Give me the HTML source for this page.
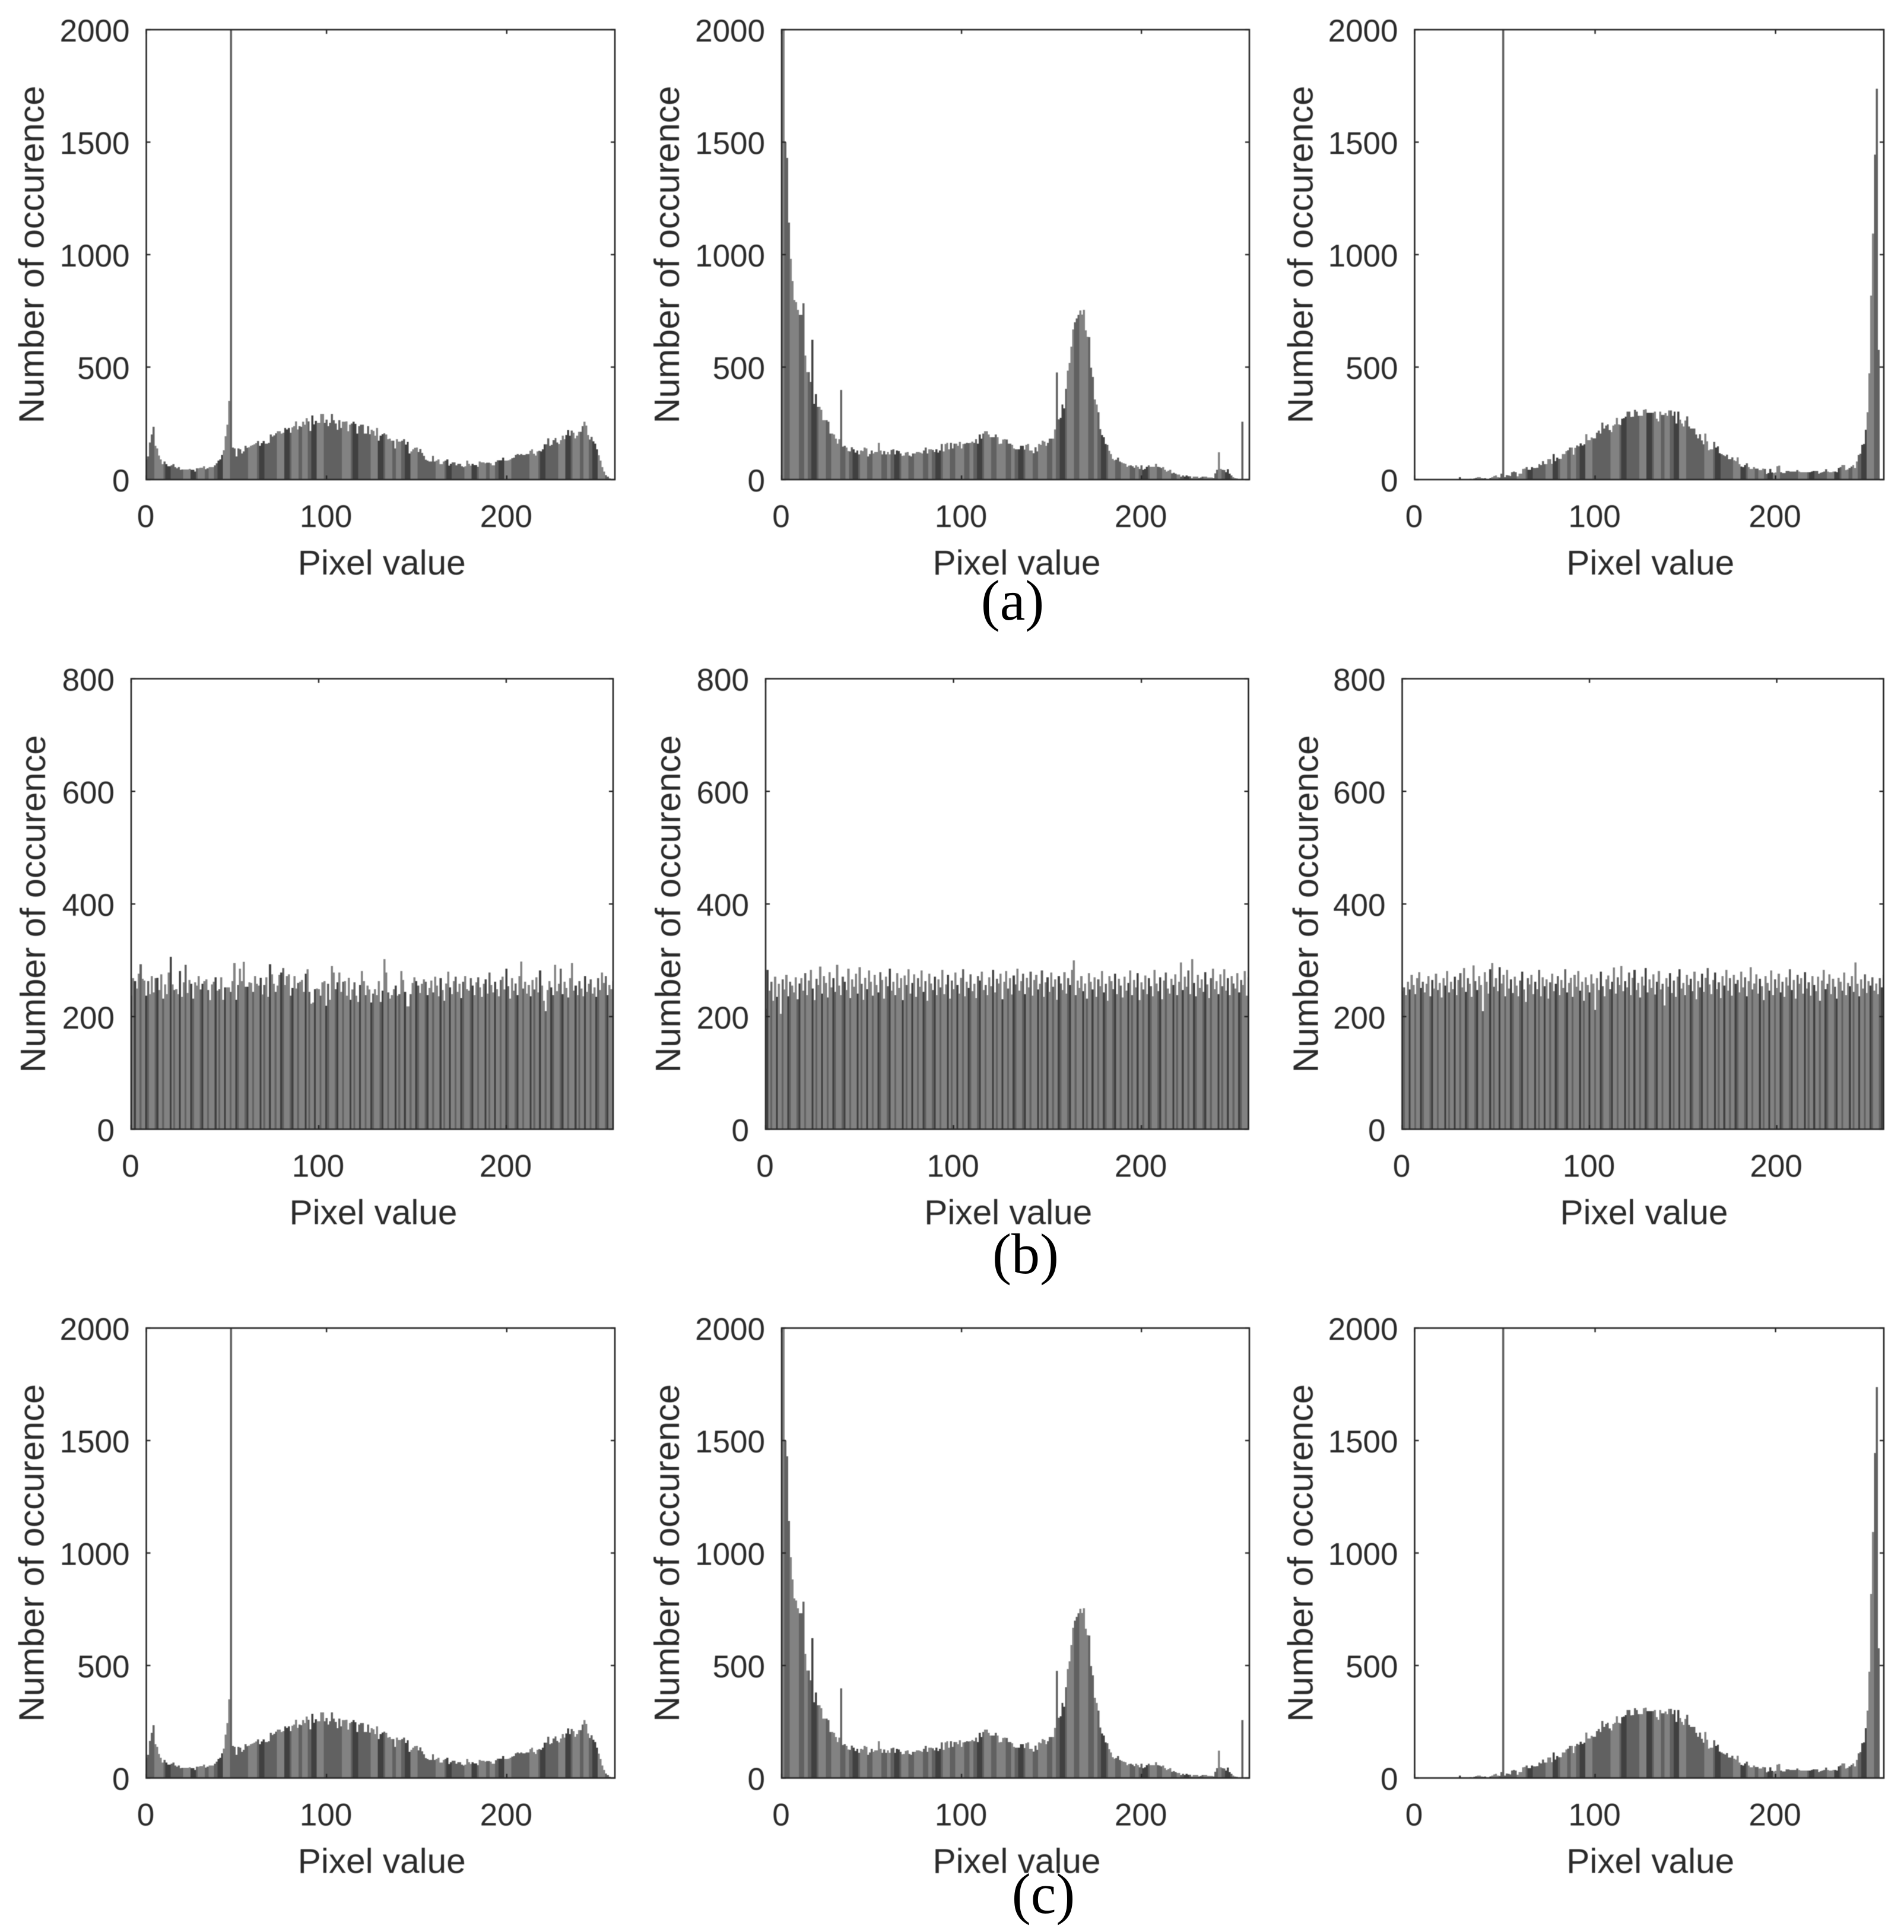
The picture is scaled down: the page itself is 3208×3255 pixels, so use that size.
<!DOCTYPE html>
<html lang="en">
<head>
<meta charset="utf-8">
<title>Pixel value histograms</title>
<style>
html,body{margin:0;padding:0;background:#fff;}
svg{display:block;}
.tick-label{font-family:"Liberation Sans",Arial,sans-serif;font-size:53px;fill:#2a2a2a;}
.x-title{font-family:"Liberation Sans",Arial,sans-serif;font-size:58.5px;fill:#2a2a2a;}
.y-title{font-family:"Liberation Sans",Arial,sans-serif;font-size:59.5px;fill:#2a2a2a;}
.caption{font-family:"Liberation Serif","Times New Roman",serif;font-size:96px;fill:#000;text-anchor:middle;}
#charts{filter:blur(0.6px);}
</style>
</head>
<body>
<svg id="figure" xmlns="http://www.w3.org/2000/svg" width="3208" height="3255" viewBox="0 0 3208 3255">
  <rect x="0" y="0" width="3208" height="3255" fill="#fff"/>
  <g id="charts"></g>
  <text class="caption" x="1706" y="1044">(a)</text>
  <text class="caption" x="1728" y="2145">(b)</text>
  <text class="caption" x="1758" y="3223">(c)</text>
</svg>
<script>
const xTickValues = [0, 100, 200];
const yTicksOccurrence = [0, 500, 1000, 1500, 2000];
const yTicksUniform = [0, 200, 400, 600, 800];
const xAxisTitle = "Pixel value";
const yAxisTitle = "Number of occurence";

const histogramLeft = [
90,103,165,200,235,150,138,107,90,68,
80,68,59,59,63,68,55,50,55,44,
45,45,45,45,47,44,44,35,50,50,
53,53,59,46,50,56,55,56,63,72,
85,90,109,130,193,244,349,2350,142,138,
103,138,134,116,125,151,141,144,150,153,
157,162,171,151,162,171,160,160,164,200,
191,197,206,215,215,204,208,229,223,229,
208,232,237,259,223,237,235,257,244,273,
259,217,285,246,261,252,252,292,292,252,
266,237,252,292,264,250,222,264,230,257,
257,259,215,244,250,257,248,204,237,244,
244,204,204,237,202,222,217,195,229,173,
195,202,206,200,179,182,173,173,138,179,
169,169,173,179,156,167,116,125,134,141,
142,123,136,119,105,88,85,81,81,105,
81,85,90,69,69,80,84,90,62,70,
77,77,63,70,70,59,55,60,84,70,
62,70,64,64,57,81,77,77,72,75,
75,72,63,63,79,86,86,86,98,84,
84,86,90,95,98,110,114,110,114,110,
110,114,114,128,134,115,107,125,128,125,
134,157,157,183,150,155,175,185,165,158,
176,195,180,198,220,195,218,209,183,195,
213,213,237,257,240,198,178,190,170,160,
135,108,85,55,35,20,13,5
];

const histogramCenter = [
2900,2300,1500,1430,1143,982,883,798,789,754,
732,732,783,551,478,478,434,622,336,380,
323,323,310,264,264,264,257,204,204,200,
182,160,179,399,147,151,142,127,125,144,
135,120,129,112,129,127,142,138,103,114,
129,116,123,123,164,129,112,127,112,123,
112,132,135,112,129,127,116,105,107,120,
123,107,103,116,116,123,123,120,116,129,
142,116,134,134,132,123,135,120,129,158,
125,158,164,134,164,138,160,160,151,167,
138,158,160,164,162,164,169,164,179,160,
200,182,204,215,215,200,188,188,188,200,
188,158,160,178,179,178,160,160,155,138,
135,135,135,150,151,133,155,158,129,129,
118,144,125,158,155,173,169,151,164,182,
182,182,223,476,268,274,334,316,404,484,
519,591,668,699,717,732,752,734,755,664,
635,633,497,456,356,334,299,224,198,189,
158,154,128,114,92,86,88,98,81,77,
72,70,57,62,63,60,53,63,57,48,
63,44,48,57,63,57,57,57,70,57,
55,51,55,44,35,40,44,28,31,26,
22,22,13,19,13,18,15,15,7,13,
13,13,7,9,13,13,13,9,9,9,
7,28,44,121,48,44,42,33,46,26,
18,10,7,5,3,0,257,0
];

const histogramRight = [
0,0,0,0,0,0,0,0,0,0,
0,0,0,0,0,0,0,0,0,0,
1,0,1,1,2,10,1,1,2,2,
3,4,3,5,8,10,10,7,5,7,
3,1,7,10,16,18,11,9,26,2350,
11,20,18,16,33,35,33,14,26,26,
47,49,55,44,44,55,51,51,53,69,
64,82,69,69,91,91,70,113,82,97,
93,93,113,114,126,130,143,143,111,141,
152,148,161,152,157,202,176,176,187,183,
183,208,218,205,253,227,240,246,220,211,
240,246,275,246,243,271,273,280,302,302,
278,280,310,302,284,284,284,310,313,297,
297,297,297,302,271,258,302,288,288,296,
284,308,308,284,302,249,302,266,249,236,
262,281,236,227,227,227,200,183,202,174,
157,205,170,130,135,135,167,143,148,117,
113,108,104,111,91,91,99,86,82,99,
69,58,55,64,73,55,47,47,55,49,
49,42,42,49,47,25,29,47,32,29,
32,60,62,33,29,29,38,38,36,36,
36,36,42,36,33,33,33,33,33,33,
36,38,38,38,26,30,33,36,46,36,
33,33,36,36,33,51,55,64,64,42,
45,51,58,64,51,81,110,115,154,158,
222,299,472,818,1094,1444,1737,577
];

const uniformLeft = [
237,268,263,250,276,293,267,264,237,263,240,272,243,268,269,247,275,232,257,240,
278,306,257,247,249,240,281,235,261,292,242,265,258,232,261,255,272,248,258,263,
266,247,229,257,262,270,246,249,270,230,252,252,252,244,263,295,230,256,285,263,
297,253,253,261,260,244,272,258,255,269,239,256,270,235,293,275,258,244,255,274,
278,286,256,272,275,237,251,272,250,260,262,265,244,276,284,244,223,225,249,250,
249,237,261,263,219,258,230,290,278,249,261,278,244,262,263,237,269,230,248,261,
237,226,256,281,263,238,255,248,225,241,249,238,263,226,246,302,278,243,232,238,
249,255,237,240,281,265,244,218,218,240,260,270,263,255,242,258,266,262,238,251,
264,243,271,255,236,268,247,228,259,280,252,240,263,271,244,258,233,262,272,249,
246,268,255,238,261,270,252,235,258,266,241,278,256,243,262,249,236,265,271,248,
285,254,232,268,246,259,238,272,298,250,262,241,256,236,265,248,270,243,282,255,
228,210,247,263,252,238,292,245,258,285,240,262,251,234,268,295,246,255,238,263,
250,236,272,244,258,266,241,252,235,268,247,278,260,272,238,256,249,263,240,255
];

const uniformCenter = [
214,283,246,262,228,271,235,258,205,266,248,274,236,262,255,243,270,231,259,268,
246,277,238,264,283,250,229,267,256,289,241,272,260,234,279,252,268,244,292,255,
238,271,262,247,285,233,266,253,276,241,288,258,230,269,249,282,262,237,274,256,
243,279,265,232,271,254,285,246,262,238,277,251,268,229,273,256,284,241,260,275,
235,268,253,282,244,263,228,276,259,247,271,238,266,252,283,240,257,274,232,264,
249,278,256,241,269,284,236,262,251,275,245,258,233,272,264,280,247,256,238,270,
254,283,243,267,259,276,231,262,281,250,268,239,273,257,285,246,263,276,240,269,
252,280,237,265,274,248,258,282,235,261,270,244,278,253,266,230,272,259,247,279,
241,268,256,283,300,238,264,251,272,245,259,232,277,262,248,270,235,266,254,281,
243,258,228,272,263,249,276,240,267,255,234,271,246,260,282,238,265,252,277,229,
261,248,273,240,268,254,236,283,259,245,270,231,264,278,250,241,267,256,275,238,
262,296,247,271,253,282,240,302,260,236,274,251,266,244,279,257,233,268,285,249,
263,240,275,254,284,246,268,238,272,259,250,277,243,265,256,281,237,270,248,262
];

const uniformRight = [
245,252,238,262,248,274,256,240,268,279,251,262,243,258,272,236,265,250,276,247,
260,234,268,255,281,243,262,249,271,238,265,277,252,286,244,268,258,235,291,263,
247,272,256,210,279,262,241,284,295,253,268,245,288,259,274,236,283,250,266,242,
271,255,236,264,280,248,226,268,257,274,240,262,249,283,236,270,254,266,232,261,
276,245,258,272,238,265,251,284,243,260,269,235,274,253,281,246,262,228,270,256,
243,275,259,212,268,247,280,254,236,266,273,249,262,287,241,270,256,290,245,263,
252,278,238,269,283,247,260,234,271,255,286,243,266,251,275,239,262,281,248,258,
220,268,253,277,242,264,235,271,284,250,260,238,274,256,267,245,280,231,263,252,
276,244,269,286,257,240,265,278,249,261,233,272,255,283,246,268,237,274,258,265,
243,280,252,270,236,263,288,248,259,275,241,267,254,229,272,260,246,282,238,266,
251,276,243,262,235,270,255,284,247,265,232,274,258,268,241,279,250,261,237,272,
256,245,271,228,264,283,249,258,275,240,267,253,232,269,262,246,278,238,260,254,
272,244,296,258,236,266,250,275,242,263,255,270,246,259,240,268,252,274,248,260
];

const SVG_NS = "http://www.w3.org/2000/svg";
const shadeColors = { d: "#404040", m: "#616161", l: "#828282" };
const bandsSide = "dddllllmmmmmmmmmmlllllmdddmmmmmmmllllddd" + "mllllmmlllmm";
const bandsCenter = "dddmllllmmmlllllmmmllmm";
const bandsUniform = "dllmlldmlllmdllmllldlmll";

const panels = [
  { key: "a-left",   values: histogramLeft,   yTicks: yTicksOccurrence, yMax: 2000, xMax: 260, left: 246.5,  right: 1036,   top: 50,     bottom: 808,    labelGap: 173, bands: bandsSide,    phase: 40 },
  { key: "a-center", values: histogramCenter, yTicks: yTicksOccurrence, yMax: 2000, xMax: 260, left: 1317,   right: 2105,   top: 50,     bottom: 808,    labelGap: 173, bands: bandsCenter,  phase: 17 },
  { key: "a-right",  values: histogramRight,  yTicks: yTicksOccurrence, yMax: 2000, xMax: 260, left: 2383.5, right: 3174,   top: 50,     bottom: 808,    labelGap: 172, bands: bandsSide,    phase: 40 },
  { key: "b-left",   values: uniformLeft,     yTicks: yTicksUniform,    yMax: 800,  xMax: 257, left: 221,    right: 1033,   top: 1143.5, bottom: 1902.5, labelGap: 145, bands: bandsUniform, phase: 2 },
  { key: "b-center", values: uniformCenter,   yTicks: yTicksUniform,    yMax: 800,  xMax: 257, left: 1290,   right: 2103.5, top: 1143.5, bottom: 1902.5, labelGap: 144, bands: bandsUniform, phase: 6 },
  { key: "b-right",  values: uniformRight,    yTicks: yTicksUniform,    yMax: 800,  xMax: 257, left: 2362.5, right: 3173.5, top: 1143.5, bottom: 1902.5, labelGap: 142, bands: bandsUniform, phase: 4 },
  { key: "c-left",   values: histogramLeft,   yTicks: yTicksOccurrence, yMax: 2000, xMax: 260, left: 246.5,  right: 1036,   top: 2237.5, bottom: 2995.5, labelGap: 173, bands: bandsSide,    phase: 40 },
  { key: "c-center", values: histogramCenter, yTicks: yTicksOccurrence, yMax: 2000, xMax: 260, left: 1317,   right: 2105,   top: 2237.5, bottom: 2995.5, labelGap: 173, bands: bandsCenter,  phase: 17 },
  { key: "c-right",  values: histogramRight,  yTicks: yTicksOccurrence, yMax: 2000, xMax: 260, left: 2383.5, right: 3174,   top: 2237.5, bottom: 2995.5, labelGap: 172, bands: bandsSide,    phase: 40 }
];

function node(tag, attrs, parent) {
  const el = document.createElementNS(SVG_NS, tag);
  for (const k in attrs) el.setAttribute(k, attrs[k]);
  parent.appendChild(el);
  return el;
}
function xScale(p, v) { return p.left + (v / p.xMax) * (p.right - p.left); }
function yScale(p, v) { return p.bottom - (v / p.yMax) * (p.bottom - p.top); }
function shadeFor(p, i) {
  const n = p.bands.length;
  const pos = (((i - p.phase) % n) + n) % n;
  return shadeColors[p.bands[pos]];
}

const root = document.getElementById("charts");
const defs = node("defs", {}, root);

panels.forEach(function (p) {
  const clip = node("clipPath", { id: "clip-" + p.key }, defs);
  node("rect", { x: p.left, y: p.top, width: p.right - p.left, height: p.bottom - p.top }, clip);

  const g = node("g", {}, root);
  
  

  const barGroup = node("g", { "clip-path": "url(#clip-" + p.key + ")", "shape-rendering": "crispEdges" }, g);
  
  

  const barW = xScale(p, 1) - xScale(p, 0);
  p.values.forEach(function (v, i) {
    const yTop = yScale(p, v);
    const bar = node("rect", {
      x: xScale(p, i) - barW / 2,
      y: yTop,
      width: barW + 0.4,
      height: p.bottom - yTop,
      fill: shadeFor(p, i)
    }, barGroup);
    
    
  });

  const frame = node("rect", {
    x: p.left, y: p.top, width: p.right - p.left, height: p.bottom - p.top,
    fill: "none", stroke: "#262626", "stroke-width": 2.6
  }, g);
  
  

  xTickValues.forEach(function (t) {
    const x = xScale(p, t);
    const tickB = node("line", { x1: x, x2: x, y1: p.bottom, y2: p.bottom - 7, stroke: "#262626", "stroke-width": 2.4 }, g);
    
    
    const tickT = node("line", { x1: x, x2: x, y1: p.top, y2: p.top + 7, stroke: "#262626", "stroke-width": 2.4 }, g);
    
    
    const label = node("text", { class: "tick-label", x: x - 1, y: p.bottom + 80, "text-anchor": "middle" }, g);
    label.textContent = t;
    
    
  });

  p.yTicks.forEach(function (t) {
    const y = yScale(p, t);
    const tickL = node("line", { x1: p.left, x2: p.left + 7, y1: y, y2: y, stroke: "#262626", "stroke-width": 2.4 }, g);
    
    
    const tickR = node("line", { x1: p.right, x2: p.right - 7, y1: y, y2: y, stroke: "#262626", "stroke-width": 2.4 }, g);
    
    
    const label = node("text", { class: "tick-label", x: p.left - 28, y: y + 20, "text-anchor": "end" }, g);
    label.textContent = t;
    
    
  });

  const xTitle = node("text", { class: "x-title", x: (p.left + p.right) / 2 + 2, y: p.bottom + 160, "text-anchor": "middle" }, g);
  xTitle.textContent = xAxisTitle;
  
  

  const yx = p.left - p.labelGap;
  const yy = (p.top + p.bottom) / 2;
  const yTitle = node("text", { class: "y-title", x: yx, y: yy, "text-anchor": "middle", transform: "rotate(-90 " + yx + " " + yy + ")" }, g);
  yTitle.textContent = yAxisTitle;
  
  
});
</script>
</body>
</html>
